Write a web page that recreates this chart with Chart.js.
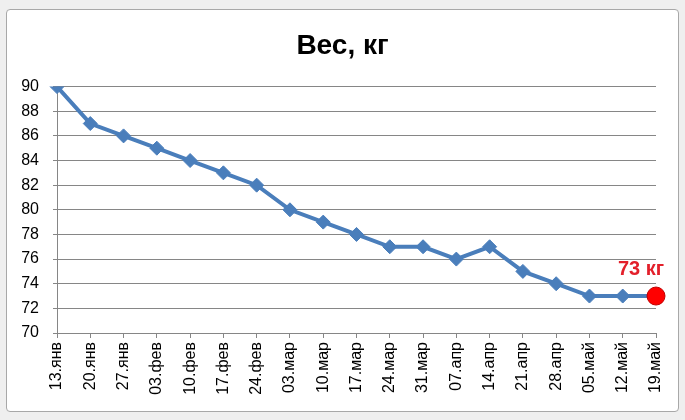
<!DOCTYPE html>
<html>
<head>
<meta charset="utf-8">
<script src="https://cdn.jsdelivr.net/npm/chart.js@4"></script>
<style>
  html, body { margin: 0; padding: 0; background: #efefef; }
  #wrap { position: absolute; left: 6px; top: 9px; width: 671px; height: 401px;
          background: #fff; border: 1px solid #a8a8a8; border-radius: 4px; }
  canvas { position: absolute; left: 0; top: 0; }
</style>
</head>
<body>
<div id="wrap"></div>
<canvas id="weight-chart" width="685" height="420"></canvas>
<script>
// даты взвешиваний
const dates = ["13.янв", "20.янв", "27.янв", "03.фев", "10.фев", "17.фев", "24.фев",
  "03.мар", "10.мар", "17.мар", "24.мар", "31.мар", "07.апр", "14.апр", "21.апр",
  "28.апр", "05.май", "12.май", "19.май"];
// вес, кг
const weights = [90, 87, 86, 85, 84, 83, 82, 80, 79, 78, 77, 77, 76, 77, 75, 74, 73, 73, 73];
const yTicks = [70, 72, 74, 76, 78, 80, 82, 84, 86, 88, 90];

const last = weights.length - 1;
const blue = "#4a7ebb";

// подпись последней точки
const lastLabel = {
  id: "lastLabel",
  afterDatasetsDraw(chart) {
    const pt = chart.getDatasetMeta(0).data[last];
    const ctx = chart.ctx;
    ctx.save();
    ctx.fillStyle = "#e3202b";
    ctx.font = "bold 20px 'Liberation Sans', Arial";
    ctx.textAlign = "center";
    ctx.textBaseline = "middle";
    ctx.fillText(weights[last] + " кг", pt.x - 15, pt.y - 27);
    ctx.restore();
  }
};

new Chart(document.getElementById("weight-chart"), {
  type: "line",
  data: {
    labels: dates,
    datasets: [{
      data: weights,
      borderColor: blue,
      borderWidth: 4,
      tension: 0,
      pointStyle: weights.map((v, i) => i === last ? "circle" : "rectRot"),
      pointRadius: weights.map((v, i) => i === last ? 9 : 7),
      pointBackgroundColor: weights.map((v, i) => i === last ? "#ff0000" : blue),
      pointBorderColor: weights.map((v, i) => i === last ? "#c00000" : blue),
      pointBorderWidth: 1
    }]
  },
  options: {
    responsive: false,
    animation: false,
    layout: { padding: 0 },
    plugins: {
      legend: { display: false },
      tooltip: { enabled: false },
      title: {
        display: true,
        text: "Вес, кг",
        color: "#000",
        font: { family: "'Liberation Sans', Arial", size: 28, weight: "bold" },
        padding: { top: 29, bottom: 24 }
      }
    },
    scales: {
      x: {
        offset: false,
        grid: { display: true, drawOnChartArea: false, color: "#868686", tickLength: 5 },
        border: { color: "#868686" },
        ticks: {
          color: "#000",
          font: { family: "'Liberation Sans', Arial", size: 16 },
          minRotation: 90, maxRotation: 90, autoSkip: false, padding: 4
        },
        afterFit(scale) { scale.height = 87; }
      },
      y: {
        min: 70, max: 90,
        afterBuildTicks(scale) { scale.ticks = yTicks.map(v => ({ value: v })); },
        grid: { color: "#868686", tickLength: 4 },
        border: { color: "#868686" },
        ticks: {
          color: "#000",
          font: { family: "'Liberation Sans', Arial", size: 16 },
          padding: 14
        },
        afterFit(scale) { scale.width = 57; }
      },
      // пустое место справа от области построения
      yRight: {
        position: "right",
        min: 70, max: 90,
        grid: { display: false },
        border: { display: false },
        ticks: { display: false },
        afterFit(scale) { scale.width = 29; }
      }
    }
  },
  plugins: [lastLabel]
});
</script>
</body>
</html>
